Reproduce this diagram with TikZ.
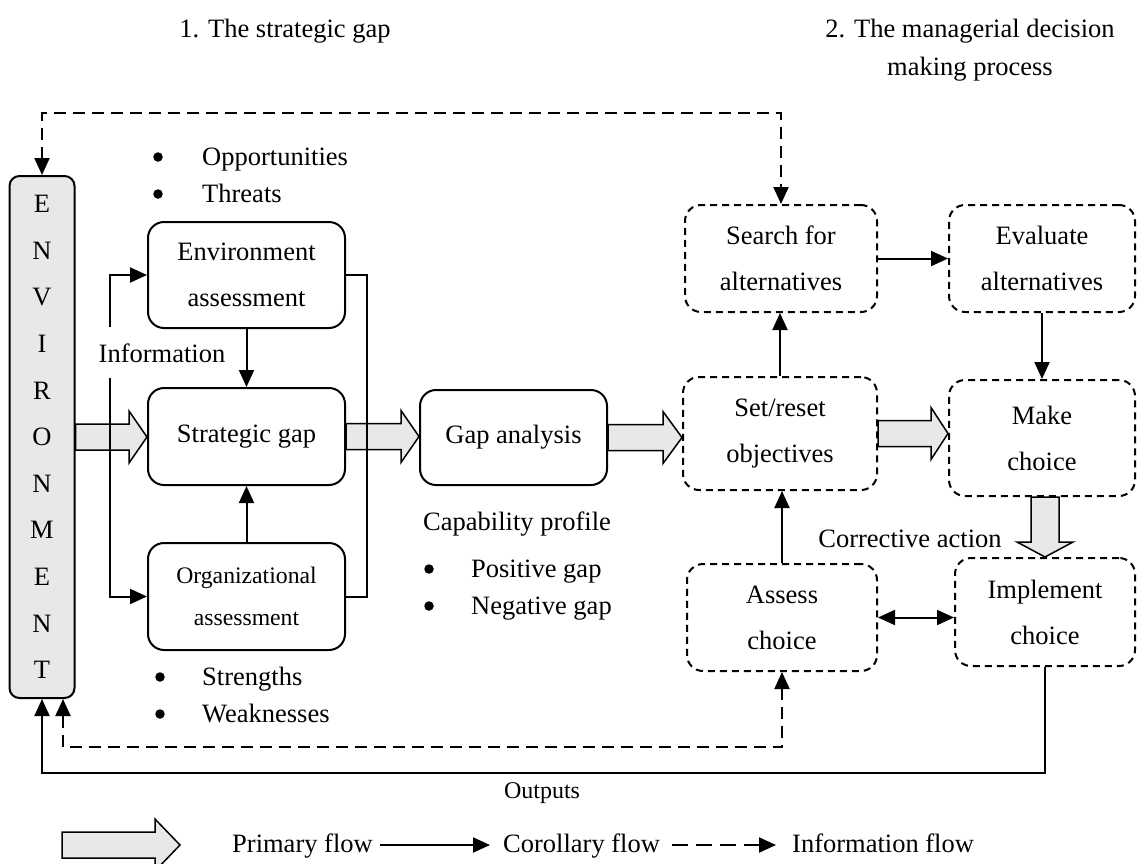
\documentclass[tikz,border=0pt]{standalone}
\usepackage{fontspec}
\setmainfont{Liberation Serif}
\usetikzlibrary{arrows.meta,calc}
\definecolor{flowgray}{gray}{0.91}

% wide grey block arrow running right, from point #1 to the tip at point #2, head length #3
\newcommand{\pflowR}[3]{%
  \filldraw[primary] let \p1=(#1), \p2=(#2) in
    (\x1,\y1+13pt) -- (\x2-#3,\y1+13pt) -- (\x2-#3,\y1+26pt) -- (\x2,\y1)
    -- (\x2-#3,\y1-26pt) -- (\x2-#3,\y1-13pt) -- (\x1,\y1-13pt) -- cycle;}
% wide grey block arrow running down, from point #1 to the tip at point #2
\newcommand{\pflowD}[2]{%
  \filldraw[primary] let \p1=(#1), \p2=(#2) in
    (\x2-14pt,\y1) -- (\x2-14pt,\y2+15pt) -- (\x2-28pt,\y2+15pt) -- (\x2,\y2)
    -- (\x2+28pt,\y2+15pt) -- (\x2+14pt,\y2+15pt) -- (\x2+14pt,\y1) -- cycle;}

\begin{document}
\begin{tikzpicture}[x=1pt,y=-1pt,
  txt/.style={font=\fontsize{26.5}{32}\selectfont, inner sep=0pt, text height=19pt, text depth=5pt},
  bul/.style={circle, fill=black, inner sep=0pt, minimum size=9.5pt},
  lines/.style={align=center, inner sep=0pt, font=\fontsize{26.5}{46}\selectfont},
  sbox/.style={lines, draw, line width=2pt, rounded corners=16pt},
  dbox/.style={sbox, dash pattern=on 7pt off 5pt},
  tipa/.tip={Triangle[length=17pt,width=15pt]},
  cor/.style={line width=2pt, -tipa},
  info/.style={line width=2pt, dash pattern=on 12pt off 7pt, tipa-tipa},
  primary/.style={line width=1.5pt, fill=flowgray, line join=miter}]

\useasboundingbox (0,0) rectangle (1138,863);

% headings
\node[txt] (t1) at (285,30) {1. The strategic gap};
\node[lines, font=\fontsize{26.5}{38}\selectfont] (t2) at (970,50) {2. The managerial decision\\making process};

% environment bar
\node[sbox, fill=flowgray, rounded corners=10pt, minimum width=65pt, minimum height=522pt,
      font=\fontsize{26.5}{46.6}\selectfont] (env) at (42,437)
      {E\\N\\V\\I\\R\\O\\N\\M\\E\\N\\T};

% strategic gap side
\node[sbox, minimum width=197pt, minimum height=106pt] (envA) at (246.5,275) {Environment\\assessment};
\node[sbox, minimum width=197pt, minimum height=97pt] (sg) at (246.5,436.5) {Strategic gap};
\node[sbox, minimum width=197pt, minimum height=107pt, font=\fontsize{23.7}{42}\selectfont] (orgA) at (246.5,596.5) {Organizational\\assessment};
\node[sbox, minimum width=187pt, minimum height=95pt] (gap) at (513.5,437.5) {Gap analysis};

% decision making side
\node[dbox, minimum width=192pt, minimum height=107pt] (search) at (781,258.5) {Search for\\alternatives};
\node[dbox, minimum width=186pt, minimum height=107pt] (eval) at (1042,258.5) {Evaluate\\alternatives};
\node[dbox, minimum width=194pt, minimum height=113pt] (set) at (780,433.5) {Set/reset\\objectives};
\node[dbox, minimum width=186pt, minimum height=116pt] (make) at (1042,438) {Make\\choice};
\node[dbox, minimum width=190pt, minimum height=107pt] (assess) at (782,617.5) {Assess\\choice};
\node[dbox, minimum width=180pt, minimum height=108pt] (impl) at (1045,612) {Implement\\choice};

% primary flow
\pflowR{env.east}{sg.west}{18pt}
\pflowR{sg.east}{gap.west}{18pt}
\pflowR{gap.east}{set.west}{19pt}
\pflowR{set.east}{make.west}{17pt}
\pflowD{make.south}{impl.north}

% corollary flow
\draw[cor] (envA.south) -- (sg.north);
\draw[cor] (orgA.north) -- (sg.south);
\draw[cor] (search.east) -- (eval.west);
\draw[cor] (set.north) -- (set.north |- search.south);
\draw[cor] (eval.south) -- (make.north);
\draw[cor] (assess.north) -- (assess.north |- set.south);
\draw[line width=2pt, tipa-tipa] (assess.east) -- (assess.east -| impl.west);

\coordinate (infoA) at (110,327);
\coordinate (infoB) at (110,378);
\draw[cor] (infoA) |- (envA.west);
\draw[cor] (infoB) |- (orgA.west);
\node[txt] (infolbl) at (162,355) {Information};

\coordinate (brk) at (367,0);
\draw[line width=2pt] (envA.east) -| (brk |- orgA.east) -- (orgA.east);

% information flow and outputs
\coordinate (topy) at (0,113);
\draw[info] (env.north) -- (env.north |- topy) -| (search.north);
\coordinate (envIn) at ([xshift=21pt]env.south);
\coordinate (boty) at (0,747);
\draw[info] (envIn) -- (envIn |- boty) -| (assess.south);
\coordinate (outy) at (0,773);
\draw[cor] (impl.south) -- (impl.south |- outy) -| (env.south);
\node[txt, font=\fontsize{24}{28}\selectfont] (outlbl) at (542,791) {Outputs};

% labels and bullet lists
\node[txt] (corr) at (910,540) {Corrective action};
\node[txt, anchor=west] (cap) at (423,523) {Capability profile};

\node[bul] (bo) at (158,157) {};
\node[txt, anchor=west] (opp) at (202,158) {Opportunities};
\node[bul] (bt) at (158,194) {};
\node[txt, anchor=west] (thr) at (202,195) {Threats};
\node[bul] (bs) at (160,677) {};
\node[txt, anchor=west] (str) at (202,678) {Strengths};
\node[bul] (bw) at (160,714) {};
\node[txt, anchor=west] (wea) at (202,715) {Weaknesses};
\node[bul] (bp) at (429,569) {};
\node[txt, anchor=west] (pos) at (471,570) {Positive gap};
\node[bul] (bn) at (429,606) {};
\node[txt, anchor=west] (neg) at (471,607) {Negative gap};

% legend
\coordinate (lpA) at (62,845);
\coordinate (lpB) at (180,845);
\pflowR{lpA}{lpB}{25pt}
\node[txt, anchor=west] (lp) at (232,845) {Primary flow};
\coordinate (lcA) at (380,845);
\coordinate (lcB) at (490,845);
\draw[cor] (lcA) -- (lcB);
\node[txt, anchor=west] (lc) at (503,845) {Corollary flow};
\coordinate (liA) at (672,845);
\coordinate (liB) at (776,845);
\draw[line width=2pt, dash pattern=on 16pt off 8pt, -tipa] (liA) -- (liB);
\node[txt, anchor=west] (li) at (792,845) {Information flow};
\end{tikzpicture}
\end{document}
